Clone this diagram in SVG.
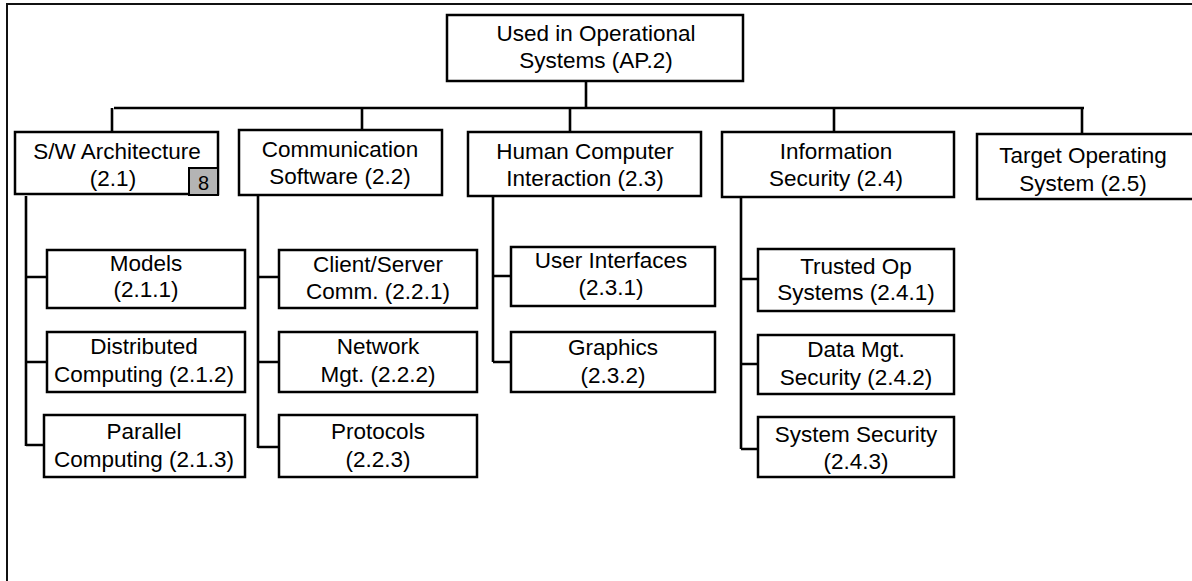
<svg xmlns="http://www.w3.org/2000/svg" width="1192" height="581" viewBox="0 0 1192 581">
<style>
.box{fill:#fff;stroke:#000;stroke-width:2.5}
.t{font-family:"Liberation Sans",Arial,sans-serif;font-size:22.5px;fill:#000;text-anchor:middle}
.c{fill:none;stroke:#000;stroke-width:2.6}
.frame{fill:none;stroke:#111;stroke-width:2}
</style>
<rect width="1192" height="581" fill="#fff"/>
<path class="frame" d="M7,581 V4 H1192"/>
<g id="connectors">
<path class="c" d="M586,81 V108 M114,108 H1084 M112,108 V132 M362,108 V130 M570,108 V132 M834,108 V132 M1082,108 V134"/>
<path class="c" d="M26,196 V446 M26,277 H47 M26,362 H47 M26,445 H46"/>
<path class="c" d="M258,196 V448 M258,277 H279 M258,362 H279 M258,447 H279"/>
<path class="c" d="M493,196 V362 M493,276 H511 M493,362 H511"/>
<path class="c" d="M741,197 V449 M741,279 H758 M741,364 H758 M741,449 H758"/>
</g>
<g id="n-ap2"><rect class="box" x="447" y="15" width="296" height="66"/><text class="t" x="596" y="41">Used in Operational</text><text class="t" x="596" y="68">Systems (AP.2)</text></g>
<g id="n-21"><rect class="box" x="15" y="132" width="203" height="62"/><text class="t" x="117" y="159">S/W Architecture</text><text class="t" x="113" y="186">(2.1)</text>
<rect x="189" y="168" width="29" height="27" fill="#b4b4b4" stroke="#000" stroke-width="2"/><text class="t" x="203.5" y="190" style="font-size:20px">8</text></g>
<g id="n-22"><rect class="box" x="239" y="130" width="203" height="65"/><text class="t" x="340" y="157">Communication</text><text class="t" x="340" y="184">Software (2.2)</text></g>
<g id="n-23"><rect class="box" x="468" y="132" width="233" height="64"/><text class="t" x="585" y="159">Human Computer</text><text class="t" x="585" y="186">Interaction (2.3)</text></g>
<g id="n-24"><rect class="box" x="722" y="132" width="232" height="65"/><text class="t" x="836" y="159">Information</text><text class="t" x="836" y="186">Security (2.4)</text></g>
<g id="n-25"><rect class="box" x="977" y="134" width="230" height="65"/><text class="t" x="1083" y="163">Target Operating</text><text class="t" x="1083" y="191">System (2.5)</text></g>
<g id="n-211"><rect class="box" x="47" y="250" width="198" height="58"/><text class="t" x="146" y="271">Models</text><text class="t" x="146" y="297">(2.1.1)</text></g>
<g id="n-212"><rect class="box" x="47" y="332" width="198" height="60"/><text class="t" x="144" y="354">Distributed</text><text class="t" x="144" y="382">Computing (2.1.2)</text></g>
<g id="n-213"><rect class="box" x="44" y="415" width="201" height="62"/><text class="t" x="144" y="439">Parallel</text><text class="t" x="144" y="467">Computing (2.1.3)</text></g>
<g id="n-221"><rect class="box" x="279" y="250" width="198" height="58"/><text class="t" x="378" y="272">Client/Server</text><text class="t" x="378" y="299">Comm. (2.2.1)</text></g>
<g id="n-222"><rect class="box" x="279" y="332" width="198" height="60"/><text class="t" x="378" y="354">Network</text><text class="t" x="378" y="382">Mgt. (2.2.2)</text></g>
<g id="n-223"><rect class="box" x="279" y="415" width="198" height="62"/><text class="t" x="378" y="439">Protocols</text><text class="t" x="378" y="467">(2.2.3)</text></g>
<g id="n-231"><rect class="box" x="511" y="247" width="204" height="59"/><text class="t" x="611" y="268">User Interfaces</text><text class="t" x="611" y="295">(2.3.1)</text></g>
<g id="n-232"><rect class="box" x="511" y="332" width="204" height="60"/><text class="t" x="613" y="355">Graphics</text><text class="t" x="613" y="383">(2.3.2)</text></g>
<g id="n-241"><rect class="box" x="758" y="249" width="196" height="62"/><text class="t" x="856" y="274">Trusted Op</text><text class="t" x="856" y="300">Systems (2.4.1)</text></g>
<g id="n-242"><rect class="box" x="758" y="335" width="196" height="59"/><text class="t" x="856" y="357">Data Mgt.</text><text class="t" x="856" y="385">Security (2.4.2)</text></g>
<g id="n-243"><rect class="box" x="758" y="417" width="196" height="60"/><text class="t" x="856" y="442">System Security</text><text class="t" x="856" y="469">(2.4.3)</text></g>
</svg>
